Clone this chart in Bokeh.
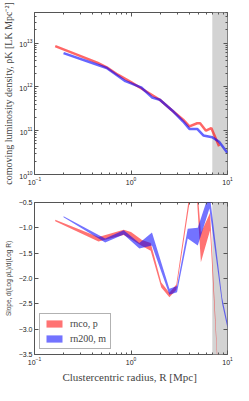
from bokeh.plotting import figure
from bokeh.layouts import column
from bokeh.models import (BoxAnnotation, FixedTicker, LogAxis, LinearAxis, Legend, LegendItem,
                          CustomJSTickFormatter)
from bokeh.embed import file_html
from bokeh.resources import INLINE

# ---- top panel: luminosity density profiles ----
r_red_top = [0.164, 0.447, 0.56, 0.73, 1.0, 1.27, 1.99, 2.67, 3.47, 4.03, 4.85, 5.2, 5.98, 6.79, 8.18]
rho_red = [8.5e12, 3.6e12, 2.8e12, 1.9e12, 1.29e12, 9.3e11, 5.1e11, 2.9e11, 1.78e11, 1.26e11,
           1.48e11, 1.48e11, 1.0e11, 1.15e11, 4.4e10]
r_blue_top = [0.2, 0.447, 0.56, 0.875, 1.27, 1.65, 1.99, 2.67, 3.47, 4.03, 4.85, 5.62, 6.95, 8.18, 10.0]
rho_blue = [5.9e12, 3.2e12, 2.7e12, 1.35e12, 9.8e11, 5.75e11, 5.1e11, 2.9e11, 1.62e11, 1.1e11,
            1.1e11, 7.8e10, 7.1e10, 5.6e10, 3.1e10]

# ---- bottom panel: slope bands ----
r_red_bot = [0.164, 0.46, 0.84, 1.0, 1.3, 1.6, 2.06, 2.5, 2.95, 4.6, 5.3, 6.6, 8.0]
slope_red_lo = [-0.87, -1.27, -1.14, -1.22, -1.36, -1.45, -2.18, -2.37, -2.22, 0.2, -1.68, -1.05, -3.95]
slope_red_hi = [-0.84, -1.18, -1.04, -1.08, -1.24, -1.30, -2.08, -2.28, -2.12, 0.4, -1.10, -0.70, -3.85]
r_blue_bot = [0.2, 0.54, 0.84, 1.22, 1.65, 2.5, 3.0, 3.87, 4.92, 6.5, 8.8, 10.0]
slope_blue_lo = [-0.79, -1.29, -1.13, -1.41, -1.35, -2.32, -2.27, -1.21, -1.35, -0.62, -2.50, -2.98]
slope_blue_hi = [-0.77, -1.21, -1.05, -1.30, -1.09, -2.20, -2.15, -1.02, -1.00, -0.30, -2.38, -2.88]

x_ticks = [0.1, 1.0, 10.0]
y_ticks_top = [1e10, 1e11, 1e12, 1e13]
y_ticks_bot = [-0.5, -1.0, -1.5, -2.0, -2.5, -3.0, -3.5]
y_tick_labels_bot = ["\u22120.5", "\u22121.0", "\u22121.5", "\u22122.0", "\u22122.5", "\u22123.0", "\u22123.5"]
label_red = "rnco, p"
label_blue = "rn200, m"

RED = "#ff0000"
BLUE = "#0000ff"
SERIF = "Liberation Serif"
GREY = "#555555"
x_minor = [m * d for d in (0.1, 1.0) for m in range(2, 10)]
y_minor = [m * d for d in (1e10, 1e11, 1e12, 1e13) for m in range(2, 10)]


def tick_style(ax):
    ax.major_tick_in = 4
    ax.major_tick_out = 0
    ax.minor_tick_in = 2
    ax.minor_tick_out = 0
    ax.axis_line_color = None
    ax.major_tick_line_color = GREY
    ax.minor_tick_line_color = GREY
    ax.major_label_text_font_size = "7px"
    ax.major_label_text_color = "#222222"
    ax.major_label_standoff = 2


def blank_axis(cls, ticker):
    ax = cls(ticker=ticker, formatter=CustomJSTickFormatter(code="return ''"))
    tick_style(ax)
    ax.major_label_text_font_size = "1px"
    ax.major_label_standoff = 0
    return ax


def base(height, top):
    p = figure(width=233, height=height, x_axis_type="log",
               y_axis_type="log" if top else "linear",
               x_range=(0.1, 10), y_range=(1e10, 5e13) if top else (-3.5, -0.5),
               output_backend="svg", toolbar_location=None,
               min_border_left=29, min_border_right=6,
               min_border_top=12 if top else 15, min_border_bottom=2)
    p.outline_line_color = GREY
    p.xgrid.visible = False
    p.ygrid.visible = False
    p.add_layout(BoxAnnotation(left=7, right=10, fill_color="#d3d3d3", fill_alpha=1.0,
                               line_color="#c8c8c8", level="underlay"))
    return p


# top figure
p1 = base(187, True)
p1.line(r_red_top, rho_red, line_color=RED, line_width=2.5, line_alpha=0.6)
p1.line(r_blue_top, rho_blue, line_color=BLUE, line_width=2.5, line_alpha=0.6)
xa1 = p1.below[0]
ya1 = p1.left[0]
tick_style(xa1)
tick_style(ya1)
xa1.ticker = FixedTicker(ticks=x_ticks, minor_ticks=x_minor)
ya1.ticker = FixedTicker(ticks=y_ticks_top, minor_ticks=y_minor)
p1.add_layout(blank_axis(LogAxis, FixedTicker(ticks=y_ticks_top, minor_ticks=y_minor)), "right")
p1.add_layout(blank_axis(LogAxis, FixedTicker(ticks=x_ticks, minor_ticks=x_minor)), "above")
ya1.axis_label = "comoving luminosity density, \u03c1K [LK Mpc\u207b\u00b2]"
ya1.axis_label_text_font = SERIF
ya1.axis_label_text_font_size = "10px"
ya1.axis_label_text_font_style = "normal"
ya1.axis_label_standoff = 2

# bottom figure
p2 = base(198, False)
rr = p2.varea(x=r_red_bot, y1=slope_red_lo, y2=slope_red_hi, fill_color=RED, fill_alpha=0.55)
bb = p2.varea(x=r_blue_bot, y1=slope_blue_lo, y2=slope_blue_hi, fill_color=BLUE, fill_alpha=0.55)
xa2 = p2.below[0]
ya2 = p2.left[0]
tick_style(xa2)
tick_style(ya2)
xa2.ticker = FixedTicker(ticks=x_ticks, minor_ticks=x_minor)
ya2.ticker = FixedTicker(ticks=y_ticks_bot)
ya2.major_label_overrides = {v: s for v, s in zip(y_ticks_bot, y_tick_labels_bot)}
p2.add_layout(blank_axis(LinearAxis, FixedTicker(ticks=y_ticks_bot)), "right")
p2.add_layout(blank_axis(LogAxis, FixedTicker(ticks=x_ticks, minor_ticks=x_minor)), "above")
ya2.axis_label = "Slope, d(Log \u03c1L)/d(Log R)"
ya2.axis_label_text_font_size = "6.5px"
ya2.axis_label_text_font_style = "normal"
ya2.axis_label_standoff = 4
xa2.axis_label = "Clustercentric radius,  R [Mpc]"
xa2.axis_label_text_font = SERIF
xa2.axis_label_text_font_size = "11px"
xa2.axis_label_text_font_style = "normal"
xa2.axis_label_standoff = 3

legend = Legend(items=[LegendItem(label=label_red, renderers=[rr]),
                       LegendItem(label=label_blue, renderers=[bb])],
                location="bottom_left", label_text_font=SERIF, label_text_font_size="10px",
                glyph_width=20, glyph_height=9, label_height=9, spacing=4, padding=4,
                margin=5, border_line_color="#666666", background_fill_alpha=1.0,
                label_standoff=6)
p2.add_layout(legend)

layout = column(p1, p2, spacing=0)
open("out.html", "w").write(file_html(layout, INLINE))
